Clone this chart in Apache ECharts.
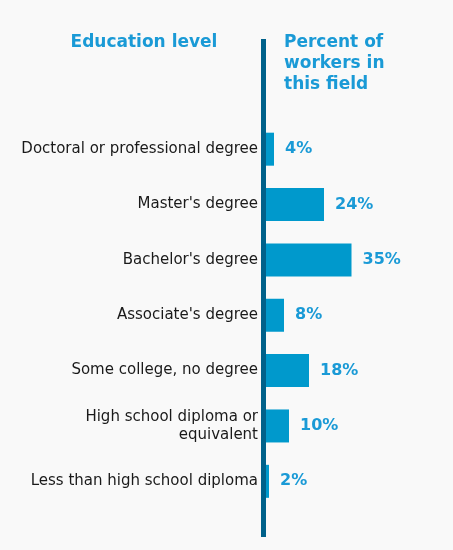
<!DOCTYPE html>
<html style="height: 100%">

<head>
    <meta charset="utf-8">
    <script type="text/javascript" src="https://cdn.jsdelivr.net/npm/echarts@6/dist/echarts.min.js"></script>
</head>

<body style="height: 100%; margin: 0; background: #f9f9f9">
    <div id="container" style="width: 453px; height: 550px"></div>
    <script type="text/javascript">
        var levels = [
            'Doctoral or professional degree',
            "Master's degree",
            "Bachelor's degree",
            "Associate's degree",
            'Some college, no degree',
            'High school diploma or\nequivalent',
            'Less than high school diploma'
        ];
        var percents = [4, 24, 35, 8, 18, 10, 2];

        var blueText = '#1a9ad6';
        var font = 'DejaVu Sans, Verdana, sans-serif';

        var dom = document.getElementById('container');
        var myChart = echarts.init(dom);

        var option = {
            backgroundColor: '#f9f9f9',
            animation: false,
            title: [{
                text: 'Education level',
                left: 144,
                textAlign: 'center',
                top: 32,
                padding: 0,
                textStyle: {
                    color: blueText,
                    fontFamily: font,
                    fontSize: 17,
                    fontWeight: 'bold',
                    lineHeight: 21
                }
            }, {
                text: 'Percent of\nworkers in\nthis field',
                left: 284,
                top: 32,
                padding: 0,
                textStyle: {
                    color: blueText,
                    fontFamily: font,
                    fontSize: 17,
                    fontWeight: 'bold',
                    lineHeight: 21
                }
            }],
            grid: {
                left: 264,
                right: 39,
                top: 121.5,
                bottom: 41
            },
            xAxis: {
                type: 'value',
                min: 0,
                max: 60,
                show: false
            },
            yAxis: {
                type: 'category',
                data: levels,
                inverse: true,
                axisLine: { show: false },
                axisTick: { show: false },
                axisLabel: {
                    margin: 6,
                    color: '#1a1a1a',
                    fontFamily: font,
                    fontSize: 15,
                    lineHeight: 18,
                    align: 'right'
                }
            },
            // the long dark rule between the labels and the bars
            graphic: [{
                type: 'rect',
                z: 100,
                shape: { x: 261, y: 39, width: 5, height: 498 },
                style: { fill: '#00618a' }
            }],
            series: [{
                type: 'bar',
                data: percents,
                barWidth: 33,
                itemStyle: { color: '#0099cc' },
                label: {
                    show: true,
                    position: 'right',
                    distance: 11,
                    formatter: '{c}%',
                    color: blueText,
                    fontFamily: font,
                    fontSize: 16,
                    fontWeight: 'bold'
                }
            }]
        };

        myChart.setOption(option);
    </script>
</body>

</html>
